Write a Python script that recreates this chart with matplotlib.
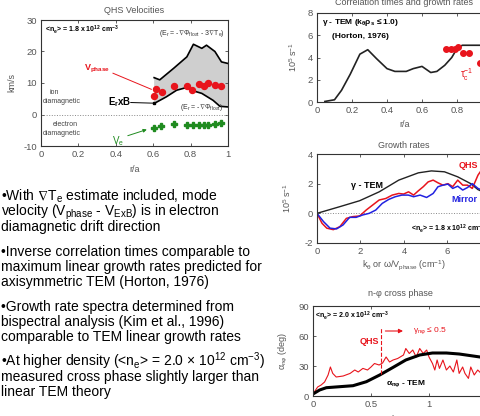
import numpy as np
import matplotlib
matplotlib.use("Agg")
import matplotlib.pyplot as plt

plt.rcParams['font.family'] = ['Liberation Sans', 'DejaVu Sans']
plt.rcParams['mathtext.fontset'] = 'custom'
plt.rcParams['mathtext.rm'] = 'Liberation Sans'
plt.rcParams['mathtext.it'] = 'Liberation Sans:italic'
plt.rcParams['mathtext.bf'] = 'Liberation Sans:bold'
plt.rcParams['mathtext.sf'] = 'Liberation Sans'
plt.rcParams['mathtext.fallback'] = 'stixsans'
plt.rcParams['axes.unicode_minus'] = False

# ---------------- data ----------------
# QHS velocities
vel_upper_x = [0.605, 0.635, 0.71, 0.78, 0.815, 0.86, 0.885, 0.93, 0.965, 1.0]
vel_upper_y = [11.7, 11.0, 14.7, 18.3, 22.3, 21.0, 22.0, 20.0, 16.7, 16.2]
vel_lower_x = [0.605, 0.67, 0.725, 0.78, 0.815, 0.86, 0.92, 0.957, 1.0]
vel_lower_y = [3.5, 5.6, 7.7, 8.6, 7.5, 6.7, 4.5, 2.6, 2.4]
vphase_x = [0.605, 0.615, 0.645, 0.71, 0.78, 0.81, 0.845, 0.87, 0.895, 0.93, 0.965]
vphase_y = [5.9, 8.0, 7.2, 9.0, 9.1, 7.9, 9.8, 9.2, 9.9, 9.3, 9.0]
ve_x = [0.605, 0.64, 0.71, 0.78, 0.815, 0.845, 0.87, 0.895, 0.93, 0.965]
ve_y = [-4.2, -3.7, -2.9, -3.2, -3.2, -3.2, -3.2, -3.2, -2.9, -2.6]
exb_x = [0.605]
exb_y = [3.5]

# Correlation times and growth rates
tem_r = [0.045, 0.10, 0.14, 0.19, 0.245, 0.29, 0.34, 0.40, 0.445, 0.51, 0.55, 0.60,
         0.65, 0.685, 0.73, 0.77, 0.80, 0.83, 0.9, 1.0]
tem_gamma = [0.05, 0.2, 1.05, 2.5, 4.3, 4.7, 3.9, 3.0, 2.75, 2.75, 3.0, 3.2,
             2.65, 2.75, 3.3, 4.0, 4.8, 5.1, 5.1, 5.1]
tauc_r = [0.74, 0.765, 0.79, 0.805, 0.836, 0.869, 0.93]
tauc_inv = [4.8, 4.8, 4.8, 4.95, 4.39, 4.39, 3.5]

# Growth rates
gr_tem_k = [0, 1.05, 1.96, 2.86, 3.76, 4.66, 5.26, 5.86, 6.47, 7.07, 7.4, 8.0]
gr_tem = [0, 0.45, 0.85, 1.45, 2.24, 2.73, 2.86, 2.8, 2.46, 2.0, 1.6, 1.2]
gr_qhs_k = [0, 0.23, 0.45, 0.75, 1.05, 1.35, 1.65, 1.96, 2.26, 2.56, 2.86, 3.16, 3.46,
            3.76, 3.98, 4.21, 4.44, 4.66, 4.89, 5.11, 5.34, 5.56, 5.79, 6.02, 6.24,
            6.47, 6.7, 6.92, 7.14, 7.4, 7.6]
gr_qhs = [0, -0.67, -1.0, -1.1, -0.9, -0.34, -0.22, -0.18, 0.22, 0.56, 0.9, 1.0, 1.23,
          1.34, 1.3, 1.45, 1.23, 1.52, 1.8, 2.12, 2.24, 2.06, 1.9, 2.0, 1.8,
          2.24, 1.9, 1.9, 1.68, 2.57, 3.0]
gr_mir_k = [0, 0.3, 0.6, 0.9, 1.2, 1.5, 1.8, 2.1, 2.4, 2.7, 3.0, 3.3, 3.6, 3.9, 4.2,
            4.44, 4.74, 5.04, 5.34, 5.56, 5.79, 6.02, 6.24, 6.47, 6.7, 6.92, 7.14, 7.4, 7.7]
gr_mir = [0, -0.56, -1.0, -1.05, -0.78, -0.27, -0.27, -0.11, 0, 0.22, 0.67, 0.94, 1.12,
          1.23, 1.23, 1.12, 1.23, 1.07, 1.34, 1.79, 1.9, 1.97, 1.68, 1.83, 1.57,
          1.74, 2.0, 1.68, 1.5]

# Cross phase
cp_tem_k = [0, 0.057, 0.115, 0.23, 0.345, 0.46, 0.575, 0.69, 0.80, 0.92, 1.03, 1.15,
            1.26, 1.38, 1.5]
cp_tem = [2, 6, 8.3, 9.3, 10.3, 14.3, 21, 28.6, 36, 41, 43, 43, 42, 40, 38]
cp_qhs_k = [0, 0.04, 0.07, 0.1, 0.13, 0.15, 0.17, 0.2, 0.26, 0.32, 0.36, 0.39, 0.43,
            0.47, 0.5, 0.53, 0.57, 0.6, 0.63, 0.66, 0.69, 0.73, 0.78, 0.8, 0.83, 0.86,
            0.89, 0.92, 0.95, 0.98, 1.0, 1.03, 1.05, 1.07, 1.09, 1.12, 1.15, 1.18,
            1.21, 1.24, 1.26, 1.29, 1.31, 1.34, 1.36, 1.39, 1.42, 1.45, 1.48]
cp_qhs = [2, 9, 11, 14, 21, 29, 22.6, 19, 20, 22.6, 26, 24, 27.6, 26, 29, 32.5, 31,
          33, 39, 34, 36, 37.5, 41, 47.5, 42.5, 46, 39, 47.5, 42.5, 46, 39, 32.5, 26,
          36, 27.6, 36, 26, 30, 24, 36, 22.6, 29, 22.6, 17.6, 29, 21, 26, 22.6, 28]

bullets = [
    ["\u2022With $\\nabla$T$_\\mathregular{e}$ estimate included, mode",
     "velocity (V$_\\mathregular{phase}$ - V$_\\mathregular{ExB}$) is in electron",
     "diamagnetic drift direction"],
    ["\u2022Inverse correlation times comparable to",
     "maximum linear growth rates predicted for",
     "axisymmetric TEM (Horton, 1976)"],
    ["\u2022Growth rate spectra determined from",
     "bispectral analysis (Kim et al., 1996)",
     "comparable to TEM linear growth rates"],
    ["\u2022At higher density (<n$_\\mathregular{e}$> = 2.0 $\\times$ 10$^\\mathregular{12}$ cm$^\\mathregular{-3}$)",
     "measured cross phase slightly larger than",
     "linear TEM theory"],
]

# ---------------- figure ----------------
W, H = 481, 416
fig = plt.figure(figsize=(W / 100, H / 100), dpi=100)
fig.patch.set_facecolor('white')

GRAY = '#555555'
RED = '#e8141c'
BLUE = '#2222e0'
GREEN = '#1f8b1f'


def add_ax(left, right, top, bottom):
    ax = fig.add_axes([left / W, (H - bottom) / H, (right - left) / W, (bottom - top) / H])
    ax.tick_params(direction='in', length=2, width=0.6, colors='#444444',
                   labelcolor=GRAY, labelsize=6.8, pad=3, top=True, right=True)
    for s in ax.spines.values():
        s.set_color('#333333')
        s.set_linewidth(0.8)
    return ax


def style(ax, title, tpos, xlabel, xl, ylabel, yl):
    ax.text(0.5, 1 + tpos, title, transform=ax.transAxes, ha='center', va='center',
            fontsize=6.5, color=GRAY)
    ax.set_xlabel(xlabel, fontsize=6.5, color=GRAY)
    ax.set_ylabel(ylabel, fontsize=6.5, color=GRAY)
    ax.xaxis.set_label_coords(0.5, xl)
    ax.yaxis.set_label_coords(yl, 0.5)


# ---- QHS velocities ----
ax1 = add_ax(41, 228, 20, 146)
ax1.set_xlim(0, 1)
ax1.set_ylim(-10, 30)
ax1.set_xticks([0, 0.2, 0.4, 0.6, 0.8, 1.0])
ax1.set_xticklabels(['0', '0.2', '0.4', '0.6', '0.8', '1'])
ax1.set_yticks([-10, 0, 10, 20, 30])
ax1.axhline(0, color='#888888', lw=0.7, ls=':')
ax1.fill(np.concatenate([vel_upper_x, vel_lower_x[::-1]]),
         np.concatenate([vel_upper_y, vel_lower_y[::-1]]),
         color='#cfcfcf', lw=0)
ax1.plot(vel_upper_x, vel_upper_y, color='black', lw=1.2)
ax1.plot(vel_lower_x, vel_lower_y, color='black', lw=1.2)
ax1.plot(vphase_x, vphase_y, 'o', color=RED, ms=4.3, mec=RED)
ax1.plot(ve_x, ve_y, 'P', color=GREEN, ms=4.2, mec=GREEN)
ax1.plot(exb_x, exb_y, 's', color='black', ms=2)
style(ax1, 'QHS Velocities', 0.072, 'r/a', -0.15, 'km/s', -0.13)
ax1.text(0.02, 26.8, '<n$_\\mathregular{e}$> = 1.8 x 10$^\\mathregular{12}$ cm$^\\mathregular{-3}$',
         fontsize=5, fontweight='bold', va='center')
ax1.text(0.985, 25.8, '(E$_\\mathregular{r}$ = -$\\nabla\\Phi_\\mathregular{float}$ - 3$\\nabla$T$_\\mathregular{e}$)',
         fontsize=5, ha='right', va='center', color='#333333')
ax1.text(0.975, 2.3, '(E$_\\mathregular{r}$ = -$\\nabla\\Phi_\\mathregular{float}$)',
         fontsize=5, ha='right', va='center', color='#333333')
ax1.text(0.30, 14.6, 'V$_\\mathregular{phase}$', fontsize=6.5, color=RED, ha='center',
         va='center', fontweight='bold')
ax1.plot([0.385, 0.59], [13.1, 8.0], color=RED, lw=0.7)
ax1.text(0.42, 3.8, 'E$_\\mathregular{r}$xB', fontsize=7, ha='center', va='center',
         fontweight='bold')
ax1.plot([0.48, 0.6], [3.8, 3.6], color='black', lw=0.7)
ax1.text(0.41, -8.4, 'V$_\\mathregular{e}$', fontsize=7, color=GREEN, ha='center', va='center')
ax1.annotate('', xy=(0.58, -4.5), xytext=(0.45, -7.0),
             arrowprops=dict(arrowstyle='-|>', color=GREEN, lw=0.7, mutation_scale=5))
ax1.text(0.07, 7.0, 'ion', fontsize=5, color='#444444', ha='center', va='center')
ax1.text(0.11, 4.0, 'diamagnetic', fontsize=5, color='#444444', ha='center', va='center')
ax1.text(0.13, -3.3, 'electron', fontsize=5, color='#444444', ha='center', va='center')
ax1.text(0.11, -5.9, 'diamagnetic', fontsize=5, color='#444444', ha='center', va='center')

# ---- Correlation times ----
ax2 = add_ax(317, 492, 13, 102)
ax2.set_xlim(0, 1)
ax2.set_ylim(0, 8)
ax2.set_xticks([0, 0.2, 0.4, 0.6, 0.8, 1.0])
ax2.set_xticklabels(['0', '0.2', '0.4', '0.6', '0.8', '1'])
ax2.set_yticks([0, 2, 4, 6, 8])
ax2.plot(tem_r, tem_gamma, color='#222222', lw=1.2)
ax2.plot(tauc_r, tauc_inv, 'o', color=RED, ms=4, mec=RED)
style(ax2, 'Correlation times and growth rates', 0.115, 'r/a', -0.20,
      '10$^\\mathregular{5}$ s$^\\mathregular{-1}$', -0.10)
ax2.text(0.03, 7.2, '\u03b3 - TEM (k$_\\mathregular{\u03b8}$\u03c1$_\\mathregular{s}$ \u2264 1.0)',
         fontsize=6, fontweight='bold', va='center')
ax2.text(0.085, 5.9, '(Horton, 1976)', fontsize=6, fontweight='bold', va='center')
ax2.text(0.855, 2.5, '\u03c4$_\\mathregular{c}^\\mathregular{-1}$', fontsize=7, color=RED,
         ha='center', va='center')

# ---- Growth rates ----
ax3 = add_ax(317, 491, 154, 243)
ax3.set_xlim(0, 8)
ax3.set_ylim(-2, 4)
ax3.set_xticks([0, 2, 4, 6, 8])
ax3.set_yticks([-2, 0, 2, 4])
ax3.axhline(0, color='#888888', lw=0.7, ls=':')
ax3.plot(gr_tem_k, gr_tem, color='#222222', lw=1.0)
ax3.plot(gr_qhs_k, gr_qhs, color=RED, lw=1.1)
ax3.plot(gr_mir_k, gr_mir, color=BLUE, lw=1.1)
style(ax3, 'Growth rates', 0.09, 'k$_\\mathregular{\u03b8}$ or \u03c9/V$_\\mathregular{phase}$ (cm$^\\mathregular{-1}$)',
      -0.17, '10$^\\mathregular{5}$ s$^\\mathregular{-1}$', -0.14)
ax3.text(1.55, 1.9, '\u03b3 - TEM', fontsize=6.5, fontweight='bold', va='center')
ax3.text(6.5, 3.2, 'QHS', fontsize=6.5, fontweight='bold', color=RED, va='center')
ax3.text(6.2, 0.9, 'Mirror', fontsize=6.5, fontweight='bold', color=BLUE, va='center')
ax3.text(4.3, -1.05, '<n$_\\mathregular{e}$> = 1.8 x 10$^\\mathregular{12}$ cm$^\\mathregular{-3}$',
         fontsize=5, fontweight='bold', va='center')

# ---- Cross phase ----
ax4 = add_ax(313, 487, 306, 396)
ax4.set_xlim(0, 1.5)
ax4.set_ylim(0, 90)
ax4.set_xticks([0, 0.5, 1.0, 1.5])
ax4.set_xticklabels(['0', '0.5', '1', '1.5'])
ax4.set_yticks([0, 30, 60, 90])
ax4.plot(cp_qhs_k, cp_qhs, color=RED, lw=0.8)
ax4.plot(cp_tem_k, cp_tem, color='black', lw=2.2)
ax4.plot([0.59, 0.59], [22, 69], color=RED, lw=0.8, ls='--')
ax4.annotate('', xy=(0.8, 65), xytext=(0.6, 65),
             arrowprops=dict(arrowstyle='-|>', color=RED, lw=0.8, mutation_scale=6))
style(ax4, 'n-\u03c6 cross phase', 0.144, 'k$_\\mathregular{\u03b8}$\u03c1$_\\mathregular{s}$', -0.19,
      '\u03b1$_\\mathregular{n\u03c6}$ (deg)', -0.13)
ax4.text(0.86, 65.5, '\u03b3$_\\mathregular{n\u03c6}$ \u2264 0.5', fontsize=6, color=RED, va='center')
ax4.text(0.49, 54, 'QHS', fontsize=6.5, color=RED, fontweight='bold', ha='center', va='center')
ax4.text(0.015, 80.5, '<n$_\\mathregular{e}$> = 2.0 x 10$^\\mathregular{12}$ cm$^\\mathregular{-3}$',
         fontsize=5, fontweight='bold', va='center')
ax4.text(0.63, 12, '\u03b1$_\\mathregular{n\u03c6}$ - TEM', fontsize=6, fontweight='bold', va='center')

# ---- bullet text ----
base = [201, 256, 311, 366]
for para, y0 in zip(bullets, base):
    for i, line in enumerate(para):
        fig.text(1 / W, 1 - (y0 + 15 * i) / H, line, fontsize=10, color='black',
                 ha='left', va='baseline')

fig.savefig('out.png', dpi=100)
